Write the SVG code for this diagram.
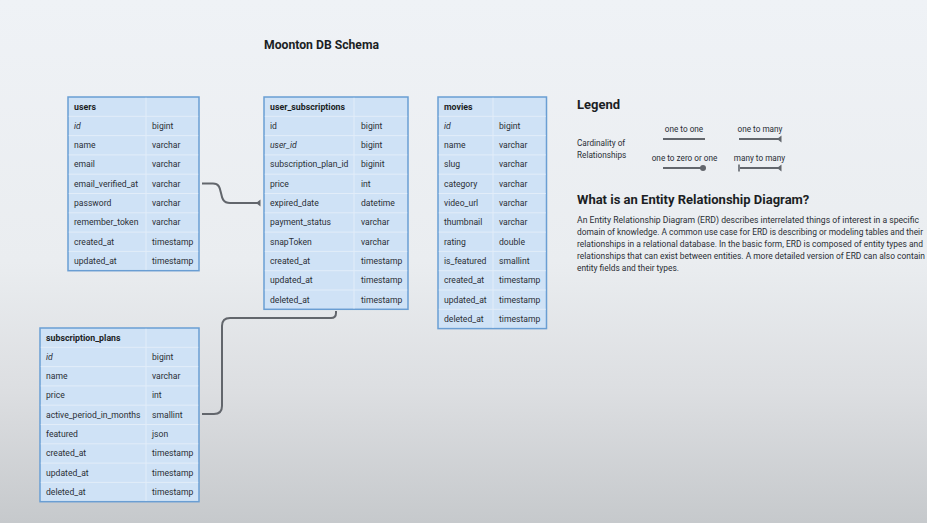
<svg xmlns="http://www.w3.org/2000/svg" width="927" height="523" viewBox="0 0 927 523">
<defs>
<linearGradient id="bg" x1="0" y1="0" x2="0" y2="1">
<stop offset="0" stop-color="#eff2f6"/>
<stop offset="0.5" stop-color="#eaedf0"/>
<stop offset="0.75" stop-color="#dcdee1"/>
<stop offset="1" stop-color="#c6c9cc"/>
</linearGradient>
<style>
text{font-family:Roboto,"Liberation Sans",sans-serif;fill:#2a2e35;}
.tb{fill:#cfe2f6;stroke:#6a9ed3;stroke-width:1.5;}
.sep{stroke:#e2edf9;stroke-width:1;}
.hd{font-size:8.8px;font-weight:bold;fill:#1b1e24;}
.c{font-size:8.6px;}
.it{font-style:italic;}
.conn{fill:none;stroke:#62666c;stroke-width:2;}
.ttl{font-size:12.2px;font-weight:bold;fill:#1b1e24;}
.h2{font-size:13px;font-weight:bold;fill:#1b1e24;}
.lg{font-size:8.2px;}
.par{font-size:8.4px;}
</style>
</defs>
<rect x="0" y="0" width="927" height="523" fill="url(#bg)"/>
<text class="ttl" x="264" y="49">Moonton DB Schema</text>

<g id="users">
<rect class="tb" x="68" y="97" width="131" height="173.7"/>
<path class="sep" d="M68.8 116.3H198.2M68.8 135.6H198.2M68.8 154.9H198.2M68.8 174.2H198.2M68.8 193.5H198.2M68.8 212.8H198.2M68.8 232.1H198.2M68.8 251.4H198.2M146 97.8V269.9"/>
<text class="hd" x="74" y="109.5">users</text>
<text class="c it" x="74" y="128.8">id</text><text class="c" x="152" y="128.8">bigint</text>
<text class="c" x="74" y="148.1">name</text><text class="c" x="152" y="148.1">varchar</text>
<text class="c" x="74" y="167.4">email</text><text class="c" x="152" y="167.4">varchar</text>
<text class="c" x="74" y="186.7">email_verified_at</text><text class="c" x="152" y="186.7">varchar</text>
<text class="c" x="74" y="206">password</text><text class="c" x="152" y="206">varchar</text>
<text class="c" x="74" y="225.3">remember_token</text><text class="c" x="152" y="225.3">varchar</text>
<text class="c" x="74" y="244.6">created_at</text><text class="c" x="152" y="244.6">timestamp</text>
<text class="c" x="74" y="263.9">updated_at</text><text class="c" x="152" y="263.9">timestamp</text>
</g>

<g id="user_subscriptions">
<rect class="tb" x="264" y="97" width="144" height="212.3"/>
<path class="sep" d="M264.8 116.3H407.2M264.8 135.6H407.2M264.8 154.9H407.2M264.8 174.2H407.2M264.8 193.5H407.2M264.8 212.8H407.2M264.8 232.1H407.2M264.8 251.4H407.2M264.8 270.7H407.2M264.8 290H407.2M354 97.8V308.5"/>
<text class="hd" x="270" y="109.5">user_subscriptions</text>
<text class="c" x="270" y="128.8">id</text><text class="c" x="361" y="128.8">bigint</text>
<text class="c it" x="270" y="148.1">user_id</text><text class="c" x="361" y="148.1">bigint</text>
<text class="c" x="270" y="167.4">subscription_plan_id</text><text class="c" x="361" y="167.4">biginit</text>
<text class="c" x="270" y="186.7">price</text><text class="c" x="361" y="186.7">int</text>
<text class="c" x="270" y="206">expired_date</text><text class="c" x="361" y="206">datetime</text>
<text class="c" x="270" y="225.3">payment_status</text><text class="c" x="361" y="225.3">varchar</text>
<text class="c" x="270" y="244.6">snapToken</text><text class="c" x="361" y="244.6">varchar</text>
<text class="c" x="270" y="263.9">created_at</text><text class="c" x="361" y="263.9">timestamp</text>
<text class="c" x="270" y="283.2">updated_at</text><text class="c" x="361" y="283.2">timestamp</text>
<text class="c" x="270" y="302.5">deleted_at</text><text class="c" x="361" y="302.5">timestamp</text>
</g>

<g id="movies">
<rect class="tb" x="438" y="97" width="108.5" height="231.6"/>
<path class="sep" d="M438.8 116.3H545.7M438.8 135.6H545.7M438.8 154.9H545.7M438.8 174.2H545.7M438.8 193.5H545.7M438.8 212.8H545.7M438.8 232.1H545.7M438.8 251.4H545.7M438.8 270.7H545.7M438.8 290H545.7M438.8 309.3H545.7M493 97.8V327.8"/>
<text class="hd" x="444" y="109.5">movies</text>
<text class="c it" x="444" y="128.8">id</text><text class="c" x="499" y="128.8">bigint</text>
<text class="c" x="444" y="148.1">name</text><text class="c" x="499" y="148.1">varchar</text>
<text class="c" x="444" y="167.4">slug</text><text class="c" x="499" y="167.4">varchar</text>
<text class="c" x="444" y="186.7">category</text><text class="c" x="499" y="186.7">varchar</text>
<text class="c" x="444" y="206">video_url</text><text class="c" x="499" y="206">varchar</text>
<text class="c" x="444" y="225.3">thumbnail</text><text class="c" x="499" y="225.3">varchar</text>
<text class="c" x="444" y="244.6">rating</text><text class="c" x="499" y="244.6">double</text>
<text class="c" x="444" y="263.9">is_featured</text><text class="c" x="499" y="263.9">smallint</text>
<text class="c" x="444" y="283.2">created_at</text><text class="c" x="499" y="283.2">timestamp</text>
<text class="c" x="444" y="302.5">updated_at</text><text class="c" x="499" y="302.5">timestamp</text>
<text class="c" x="444" y="321.8">deleted_at</text><text class="c" x="499" y="321.8">timestamp</text>
</g>

<g id="subscription_plans">
<rect class="tb" x="40" y="328" width="159" height="173.7"/>
<path class="sep" d="M40.8 347.3H198.2M40.8 366.6H198.2M40.8 385.9H198.2M40.8 405.2H198.2M40.8 424.5H198.2M40.8 443.8H198.2M40.8 463.1H198.2M40.8 482.4H198.2M146 328.8V500.9"/>
<text class="hd" x="46" y="340.5">subscription_plans</text>
<text class="c it" x="46" y="359.8">id</text><text class="c" x="152" y="359.8">bigint</text>
<text class="c" x="46" y="379.1">name</text><text class="c" x="152" y="379.1">varchar</text>
<text class="c" x="46" y="398.4">price</text><text class="c" x="152" y="398.4">int</text>
<text class="c" x="46" y="417.7">active_period_in_months</text><text class="c" x="152" y="417.7">smallint</text>
<text class="c" x="46" y="437">featured</text><text class="c" x="152" y="437">json</text>
<text class="c" x="46" y="456.3">created_at</text><text class="c" x="152" y="456.3">timestamp</text>
<text class="c" x="46" y="475.6">updated_at</text><text class="c" x="152" y="475.6">timestamp</text>
<text class="c" x="46" y="494.9">deleted_at</text><text class="c" x="152" y="494.9">timestamp</text>
</g>

<g id="connectors">
<path class="conn" d="M202 183.5H213C219 183.5 220 188 221 193C222 198 223 203 230 203H259"/>
<path d="M260.5 199.5V206.5L256 203Z" fill="#62666c"/>
<path class="conn" d="M202 414H214Q222 414 222 406V326Q222 318 230 318H331Q336 318 336 313V311"/>
</g>

<g id="legend">
<text class="h2" x="577" y="109">Legend</text>
<text class="lg" x="577" y="146">Cardinality of</text>
<text class="lg" x="577" y="157.5">Relationships</text>
<text class="lg" x="684" y="131.5" text-anchor="middle">one to one</text>
<text class="lg" x="760" y="131.5" text-anchor="middle">one to many</text>
<text class="lg" x="684.5" y="161" text-anchor="middle">one to zero or one</text>
<text class="lg" x="759.5" y="161" text-anchor="middle">many to many</text>
<path class="conn" d="M663 139H705M739 139H781M663 168H702M740 168H781"/>
<path d="M781.5 135.5V142.5L777 139Z M781.5 164.5V171.5L777 168Z" fill="#62666c"/>
<path d="M739 164.5V171.5" stroke="#62666c" stroke-width="1.6"/>
<circle cx="703" cy="168" r="3" fill="#62666c"/>
</g>

<g id="description">
<text class="h2" x="577" y="204">What is an Entity Relationship Diagram?</text>
<text class="par" x="577" y="222.5" textLength="342" lengthAdjust="spacingAndGlyphs">An Entity Relationship Diagram (ERD) describes interrelated things of interest in a specific</text>
<text class="par" x="577" y="234.5" textLength="346" lengthAdjust="spacingAndGlyphs">domain of knowledge. A common use case for ERD is describing or modeling tables and their</text>
<text class="par" x="577" y="246.5" textLength="346" lengthAdjust="spacingAndGlyphs">relationships in a relational database. In the basic form, ERD is composed of entity types and</text>
<text class="par" x="577" y="258.5" textLength="348" lengthAdjust="spacingAndGlyphs">relationships that can exist between entities. A more detailed version of ERD can also contain</text>
<text class="par" x="577" y="270.5">entity fields and their types.</text>
</g>
</svg>
